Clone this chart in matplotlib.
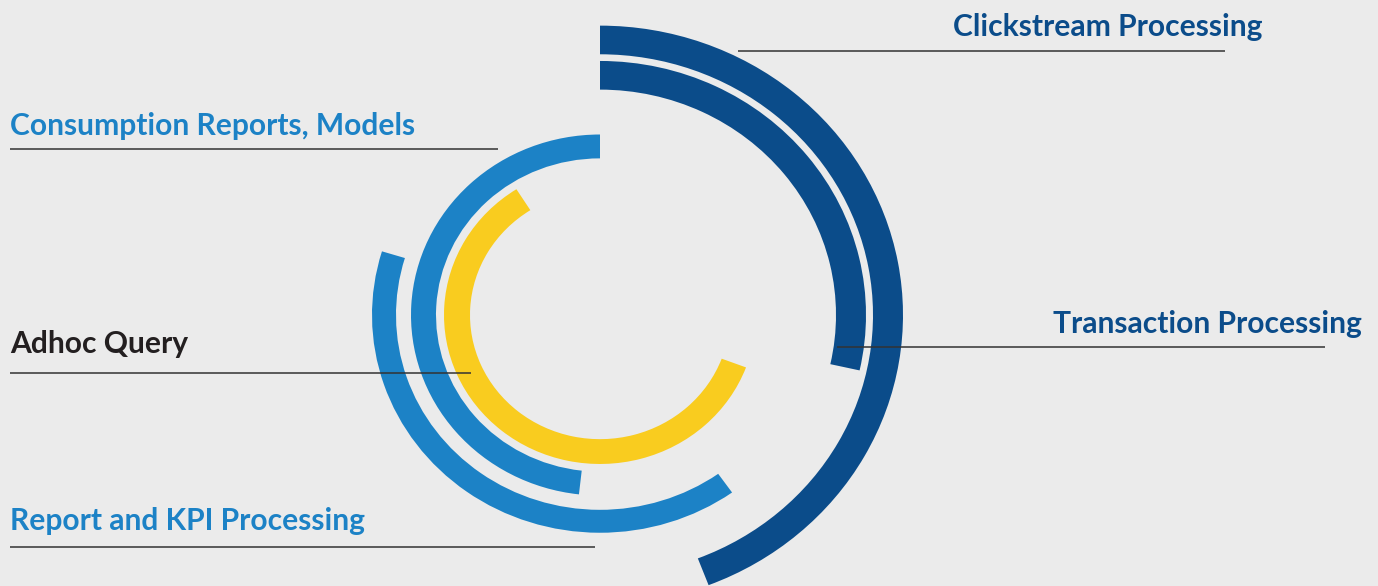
import numpy as np
import matplotlib
matplotlib.use("Agg")
import matplotlib.pyplot as plt

# workloads and the arc each one covers (degrees, clockwise from 12 o'clock)
labels = ["Clickstream Processing", "Transaction Processing", "Report and KPI Processing",
          "Consumption Reports, Models", "Adhoc Query"]
arc_start = [0.0, 0.0, 144.6, 186.4, 110.6]
arc_end = [159.0, 102.6, 287.0, 360.0, 327.6]

# ring layout (inner radius, thickness) and colours
ring_inner = [273, 236, 204, 164, 130]
ring_width = [30, 30, 24, 25, 26]
colors = ["#0B4C8A", "#0B4C8A", "#1C82C6", "#1C82C6", "#F9CC1F"]
text_colors = ["#0B4C8A", "#0B4C8A", "#1C82C6", "#1C82C6", "#231F20"]

W, H = 1378, 586
bg = "#EBEBEB"
fig = plt.figure(figsize=(W / 100, H / 100), dpi=100, facecolor=bg)

''' polar axes, slightly squashed vertically like the original artwork '''
cx, cy, rmax, squash = 600, 315, 310, 0.955
aw, ah = 2 * rmax, 2 * rmax * squash
ax = fig.add_axes([(cx - rmax) / W, (H - cy - ah / 2) / H, aw / W, ah / H], projection="polar")
ax.set_aspect("auto")
ax.set_theta_zero_location("N")
ax.set_theta_direction(-1)
ax.set_rlim(0, rmax)
ax.set_axis_off()

for s, e, r0, w, c in zip(arc_start, arc_end, ring_inner, ring_width, colors):
    ax.bar(np.deg2rad(s), w, width=np.deg2rad(e - s), bottom=r0, align="edge",
           color=c, edgecolor="none", linewidth=0)

''' labels and leader lines, in pixel coordinates '''
ov = fig.add_axes([0, 0, 1, 1], facecolor="none")
ov.set_xlim(0, W)
ov.set_ylim(H, 0)
ov.set_axis_off()

text_pos = [(953, 36), (1053, 333), (10, 530), (10, 135), (10, 353)]
line_pos = [(738, 1225, 51), (837, 1325, 347), (10, 595, 547), (10, 498, 149), (10, 471, 373)]

for lab, tc, (tx, ty), (x0, x1, ly) in zip(labels, text_colors, text_pos, line_pos):
    ov.text(tx, ty, lab, color=tc, fontsize=21.6, fontfamily="Lato", fontweight="bold",
            ha="left", va="baseline")
    ov.plot([x0, x1], [ly, ly], color="#333333", linewidth=1.1, solid_capstyle="butt")

fig.savefig("out.png", dpi=100, facecolor=bg)
